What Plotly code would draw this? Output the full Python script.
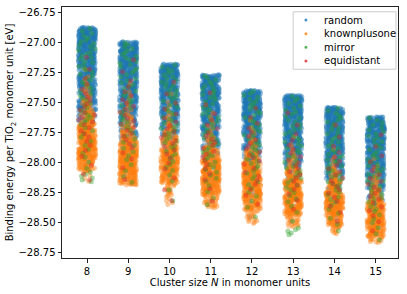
import plotly.graph_objects as go

# ---- data ----
# Cluster sizes (x categories)
SIZES = [8, 9, 10, 11, 12, 13, 14, 15]
# highest / lowest binding energy seen in each column [eV]
TOP = [-26.875, -26.995, -27.18, -27.27, -27.40, -27.44, -27.54, -27.62]
BOTTOM = [-28.17, -28.19, -28.36, -28.38, -28.51, -28.61, -28.60, -28.67]
BIN = 0.1  # energy bin height used for the counts below [eV]

# estimated number of structures per 0.1 eV bin (from each column's top downward)
RANDOM = [
    [85, 78, 70, 70, 63, 56, 48, 30, 16, 10, 6, 3, 0],
    [85, 78, 70, 63, 63, 56, 42, 30, 16, 8, 5, 3],
    [85, 78, 70, 63, 53, 35, 20, 11, 6, 3, 1, 0],
    [85, 78, 70, 63, 56, 42, 25, 14, 7, 3, 1],
    [85, 78, 70, 63, 48, 30, 16, 8, 5, 2, 1],
    [85, 78, 70, 70, 63, 42, 20, 11, 5, 2, 1, 0],
    [85, 78, 70, 70, 63, 42, 20, 11, 5, 2, 0],
    [85, 78, 70, 70, 63, 48, 28, 14, 6, 2, 0],
]
KNOWNPLUSONE = [
    [0, 0, 0, 1, 4, 8, 16, 30, 55, 70, 70, 42, 4],
    [0, 0, 0, 1, 3, 5, 11, 25, 48, 70, 70, 48],
    [0, 0, 1, 3, 7, 16, 35, 56, 63, 48, 14, 5],
    [0, 0, 0, 3, 5, 14, 35, 63, 70, 63, 28],
    [0, 0, 1, 4, 11, 28, 56, 70, 63, 48, 16],
    [0, 0, 0, 1, 4, 11, 35, 63, 70, 63, 20, 0],
    [0, 0, 0, 1, 4, 14, 35, 63, 70, 42, 7],
    [0, 0, 0, 1, 4, 11, 28, 56, 70, 56, 11],
]
MIRROR = [
    [5, 7, 7, 6, 6, 5, 5, 5, 4, 3, 3, 2, 6],
    [6, 7, 6, 6, 5, 5, 5, 4, 4, 3, 2, 2],
    [6, 7, 7, 6, 6, 7, 6, 5, 4, 2, 1, 1],
    [6, 7, 6, 6, 6, 6, 6, 5, 4, 2, 2],
    [6, 6, 6, 6, 6, 6, 5, 4, 3, 2, 1],
    [5, 6, 6, 6, 6, 6, 6, 5, 4, 2, 1, 5],
    [5, 6, 6, 6, 7, 8, 7, 5, 3, 2, 1],
    [5, 6, 6, 6, 7, 7, 6, 5, 3, 2, 1],
]
EQUIDISTANT = [
    [0, 0, 1, 1, 2, 3, 4, 5, 4, 3, 2, 1, 2],
    [0, 1, 1, 2, 3, 4, 4, 4, 3, 2, 1, 1],
    [0, 1, 1, 2, 3, 4, 4, 3, 2, 1, 1, 1],
    [0, 1, 1, 2, 3, 4, 4, 3, 2, 1, 1],
    [0, 1, 2, 3, 4, 4, 3, 3, 2, 1, 0],
    [0, 1, 1, 2, 3, 4, 4, 3, 2, 1, 0, 0],
    [0, 1, 1, 2, 3, 4, 4, 3, 2, 1, 0],
    [0, 1, 1, 2, 3, 4, 4, 3, 2, 1, 0],
]
METHODS = ["random", "knownplusone", "mirror", "equidistant"]
COUNTS = [RANDOM, KNOWNPLUSONE, MIRROR, EQUIDISTANT]
COLORS = ["#1f77b4", "#ff7f0e", "#2ca02c", "#d62728"]

Y_TICKS = [-26.75, -27.00, -27.25, -27.50, -27.75, -28.00, -28.25, -28.50, -28.75]


def expand(size, top, bottom, counts):
    """Turn a per-bin histogram into individual energies (spread inside each bin)."""
    xs, ys = [], []
    n = len(counts)
    for i, c in enumerate(counts):
        hi = top - BIN * i
        lo = bottom if i == n - 1 else top - BIN * (i + 1)
        for k in range(c):
            xs.append(size)
            ys.append(hi - (k + 0.5) / c * (hi - lo))
    return xs, ys


fig = go.Figure()
for name, counts, color in zip(METHODS, COUNTS, COLORS):
    X, Y = [], []
    for s, t, b, c in zip(SIZES, TOP, BOTTOM, counts):
        xs, ys = expand(s, t, b, c)
        X += xs
        Y += ys
    # strip plot: plotly's own box-point jitter, box itself hidden
    fig.add_trace(go.Box(
        x=X, y=Y, name=name, boxpoints="all", jitter=1, pointpos=0, width=0.42,
        fillcolor="rgba(0,0,0,0)", line=dict(width=0, color="rgba(0,0,0,0)"),
        marker=dict(color=color, size=5, opacity=0.42, line=dict(width=0)),
        showlegend=False, hoverinfo="skip",
    ))

# ---- legend drawn as a compact matplotlib-style box (paper coords = plot area) ----
LEG_X0, LEG_X1, LEG_Y0, LEG_Y1 = 0.688, 0.994, 0.752, 0.981
LEG_ROWS = [0.948, 0.893, 0.840, 0.785]
DOT_X, TXT_X = 0.726, 0.775
shapes = [dict(type="rect", xref="paper", yref="paper", x0=LEG_X0, x1=LEG_X1,
               y0=LEG_Y0, y1=LEG_Y1, line=dict(color="#cccccc", width=1),
               fillcolor="rgba(255,255,255,0.85)", layer="above")]
annotations = []
for name, color, ry in zip(METHODS, COLORS, LEG_ROWS):
    shapes.append(dict(type="circle", xref="paper", yref="paper",
                       x0=DOT_X - 0.0045, x1=DOT_X + 0.0045, y0=ry - 0.006, y1=ry + 0.006,
                       line=dict(width=0), fillcolor=color, opacity=0.8, layer="above"))
    annotations.append(dict(xref="paper", yref="paper", x=TXT_X, y=ry, text=name,
                            showarrow=False, xanchor="left", yanchor="middle",
                            font=dict(size=10, color="black")))

fig.update_layout(
    width=407, height=294,
    margin=dict(l=62, r=9, t=7, b=36, autoexpand=False),
    paper_bgcolor="white", plot_bgcolor="white",
    font=dict(family="DejaVu Sans", size=10, color="black"),
    boxmode="overlay", showlegend=False,
    shapes=shapes, annotations=annotations,
)
fig.update_xaxes(
    range=[7.394, 15.54], tickmode="array", tickvals=SIZES,
    ticktext=[str(s) for s in SIZES], automargin=False,
    showline=True, mirror=True, linecolor="#222", linewidth=1,
    ticks="outside", ticklen=3.5, tickcolor="#222", showgrid=False, zeroline=False,
    title=dict(text="Cluster size <i>N</i> in monomer units", standoff=2, font=dict(size=10)),
)
fig.update_yaxes(
    range=[-28.797, -26.706], tickmode="array", tickvals=Y_TICKS,
    ticktext=[f"\u2212{abs(v):.2f}" for v in Y_TICKS], automargin=False,
    showline=True, mirror=True, linecolor="#222", linewidth=1,
    ticks="outside", ticklen=3.5, tickcolor="#222", showgrid=False, zeroline=False,
    title=dict(text="Binding energy per TiO<sub>2</sub> monomer unit [eV]", standoff=2, font=dict(size=10)),
)

# remove the browser's default page margin so the figure sits at the window's corner
fig.write_html("out.html", config={"displayModeBar": False},
               post_script="document.body.style.margin='0';")
